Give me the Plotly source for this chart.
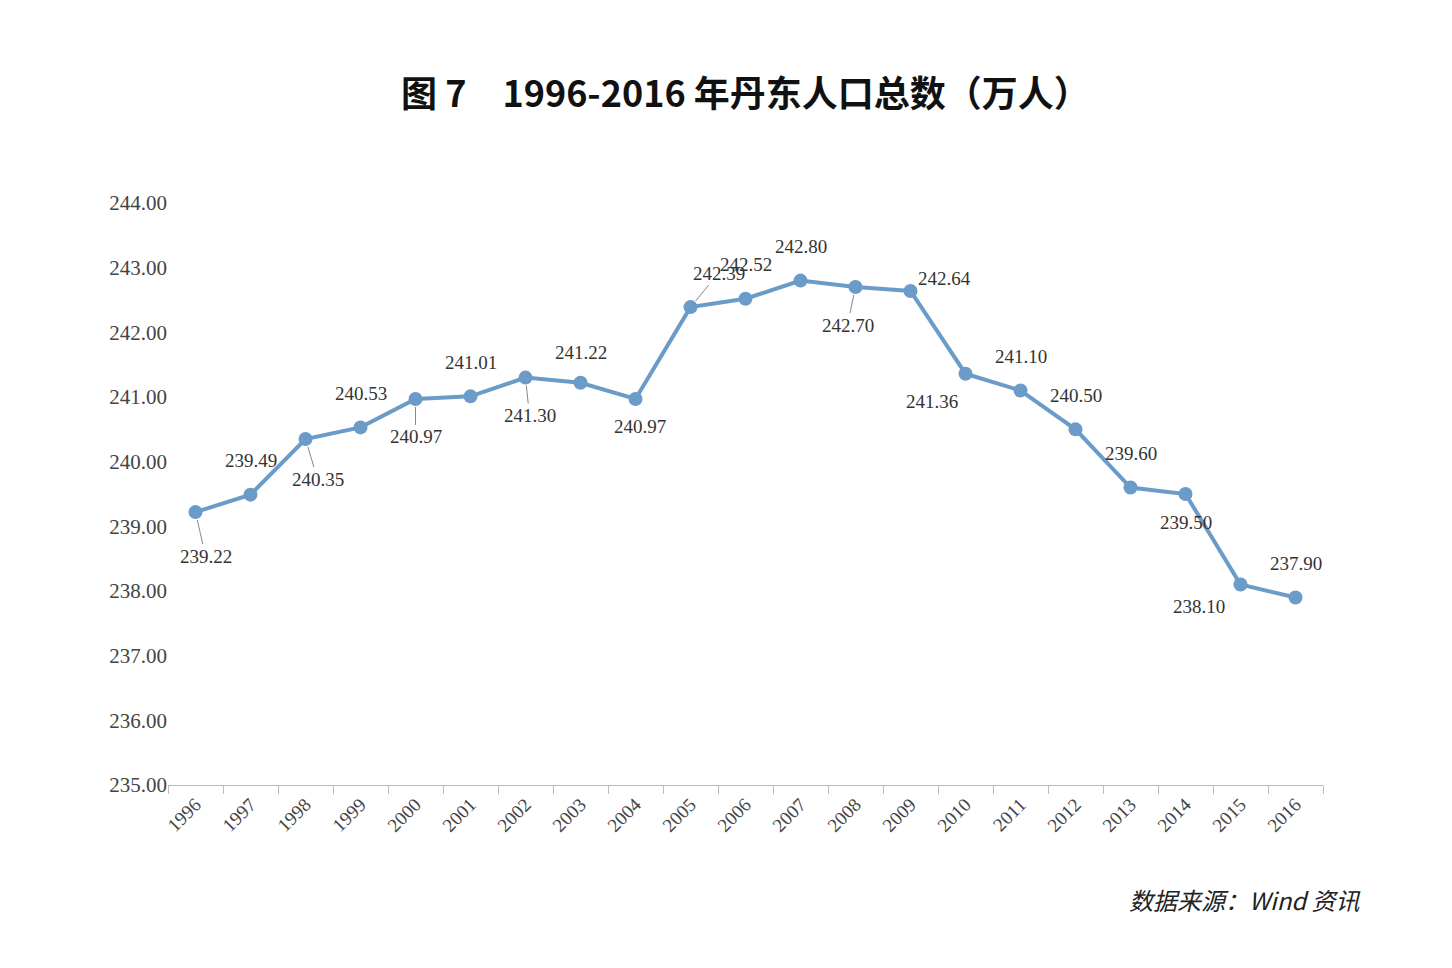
import plotly.graph_objects as go

years = [str(y) for y in range(1996, 2017)]
population = [239.22, 239.49, 240.35, 240.53, 240.97, 241.01, 241.30, 241.22, 240.97,
              242.39, 242.52, 242.80, 242.70, 242.64, 241.36, 241.10, 240.50, 239.60,
              239.50, 238.10, 237.90]
# label placement: pixel offsets of each label from its point
label_dx = [10, 0, 12, 0, 0, 0, 4, 0, 4, 28, 0, 0, -8, 34, -34, 0, 0, 0, 0, -42, 0]
label_dy = [44, -34, 40, -34, 38, -34, 38, -30, 28, -34, -34, -34, 38, -12, 28, -34, -34, -34, 28, 22, -34]
leader = [True, False, True, False, True, False, True, False, False, True, False, False,
          True, False, False, False, False, False, False, False, False]

fig = go.Figure(go.Scatter(
    x=years, y=population, mode="lines+markers",
    line=dict(color="#6b9bc8", width=4),
    marker=dict(size=14, color="#6b9bc8"),
))

for i, (v, dx, dy, ld) in enumerate(zip(population, label_dx, label_dy, leader)):
    fig.add_annotation(
        x=i, y=v, text=f"{v:.2f}", ax=dx, ay=dy, showarrow=ld,
        arrowhead=0, arrowwidth=1, arrowcolor="#888", standoff=8,
        xshift=0 if ld else dx, yshift=0 if ld else -dy,
        font=dict(family="Liberation Serif", size=19, color="#333"),
    )

fig.add_annotation(
    text="<b>图 7　1996-2016 年丹东人口总数（万人）</b>", xref="paper", yref="paper",
    x=0.5, y=1.24, showarrow=False,
    font=dict(family="Noto Sans CJK SC", size=36, color="#111"),
)
fig.add_annotation(
    text="<i>数据来源：Wind 资讯</i>", xref="paper", yref="paper",
    x=1.035, y=-0.23, xanchor="right", showarrow=False,
    font=dict(family="Noto Sans CJK SC", size=24, color="#222"),
)

fig.update_layout(
    width=1452, height=968, paper_bgcolor="white", plot_bgcolor="white",
    margin=dict(l=160, r=137, t=195, b=191), showlegend=False,
    font=dict(family="Liberation Serif", size=19, color="#444"),
)
fig.update_xaxes(
    type="category", range=[-0.5, len(years) - 0.5], tickangle=-45, showgrid=False,
    showline=True, linecolor="#bbb", ticks="outside", tickson="boundaries",
    tickcolor="#bbb", ticklen=8, tickfont=dict(size=19),
)
fig.update_yaxes(
    range=[235, 244], dtick=1, tickformat=".2f", showgrid=False,
    zeroline=False, showline=False, tickfont=dict(size=21),
)

fig.write_html("out.html")
